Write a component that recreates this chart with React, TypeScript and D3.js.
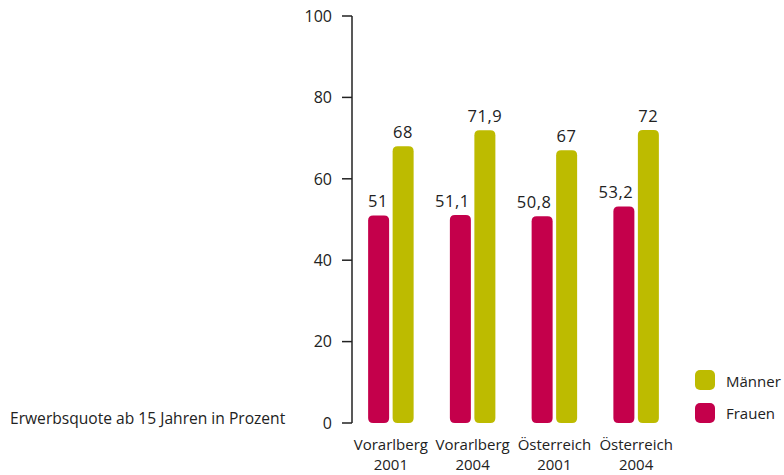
import React from "react";
import * as d3 from "d3";

const categories = ["Vorarlberg 2001", "Vorarlberg 2004", "Österreich 2001", "Österreich 2004"];
const frauen = [51, 51.1, 50.8, 53.2];
const maenner = [68, 71.9, 67, 72];
const yTicks = [0, 20, 40, 60, 80, 100];
const seriesNames = ["Frauen", "Männer"];
const colors = ["#C4004B", "#BDBB00"];

const W = 784;
const H = 475;
const FONT = "'Open Sans', 'Noto Sans', sans-serif";
const INK = "#222";

function roundedBar(x: number, y: number, w: number, h: number, r: number) {
  const rr = Math.min(r, h / 2, w / 2);
  return `M${x},${y + rr}
    Q${x},${y} ${x + rr},${y}
    L${x + w - rr},${y}
    Q${x + w},${y} ${x + w},${y + rr}
    L${x + w},${y + h - rr}
    Q${x + w},${y + h} ${x + w - rr},${y + h}
    L${x + rr},${y + h}
    Q${x},${y + h} ${x},${y + h - rr}
    Z`;
}

const fmt = (v: number) => String(v).replace(".", ",");

export default function App() {
  const axisX = 352;
  const y = d3.scaleLinear().domain([0, 100]).range([423, 16]);
  const x = d3.scaleBand().domain(categories).range([350, 677]).paddingInner(0).paddingOuter(0);
  const barW = 21;
  const gap = 3.5;

  return (
    <svg
      width={W}
      height={H}
      style={{ position: "absolute", left: 0, top: 0, background: "#fff" }}
      fontFamily={FONT}
    >
      {/* y axis */}
      <line x1={axisX} x2={axisX} y1={y(0)} y2={y(100)} stroke={INK} strokeWidth={1.5} />
      {yTicks.map((t) => (
        <g key={t}>
          <line x1={axisX - 10} x2={axisX} y1={y(t)} y2={y(t)} stroke={INK} strokeWidth={1.5} />
          <text x={axisX - 20} y={y(t)} dy="0.36em" textAnchor="end" fontSize={16} fill={INK}>
            {t}
          </text>
        </g>
      ))}

      {/* bars: women's labels sit flush right on the bar, men's are centred */}
      {categories.map((c, i) => {
        const cx = (x(c) as number) + x.bandwidth() / 2;
        const vals = [frauen[i], maenner[i]];
        return (
          <g key={c}>
            {vals.map((v, j) => {
              const bx = j === 0 ? cx - gap / 2 - barW : cx + gap / 2;
              const top = y(v);
              return (
                <g key={j}>
                  <path d={roundedBar(bx, top, barW, y(0) - top, 5)} fill={colors[j]} />
                  <text
                    x={j === 0 ? bx + barW - 1 : bx + barW / 2}
                    y={top - 8}
                    textAnchor={j === 0 ? "end" : "middle"}
                    fontSize={16.5}
                    letterSpacing={0.6}
                    fill={INK}
                  >
                    {fmt(v)}
                  </text>
                </g>
              );
            })}
            {c.split(" ").map((line, k) => (
              <text
                key={k}
                x={cx}
                y={450 + k * 20}
                textAnchor="middle"
                fontSize={15}
                fill={INK}
              >
                {line}
              </text>
            ))}
          </g>
        );
      })}

      {/* axis title */}
      <text x={10} y={424} fontSize={15.6} fill={INK}>
        Erwerbsquote ab 15 Jahren in Prozent
      </text>

      {/* legend */}
      {[1, 0].map((s, k) => (
        <g key={s}>
          <rect x={695} y={370 + k * 33} width={20} height={20} rx={5} fill={colors[s]} />
          <text x={726} y={387 + k * 32} fontSize={15} fill={INK}>
            {seriesNames[s]}
          </text>
        </g>
      ))}
    </svg>
  );
}
